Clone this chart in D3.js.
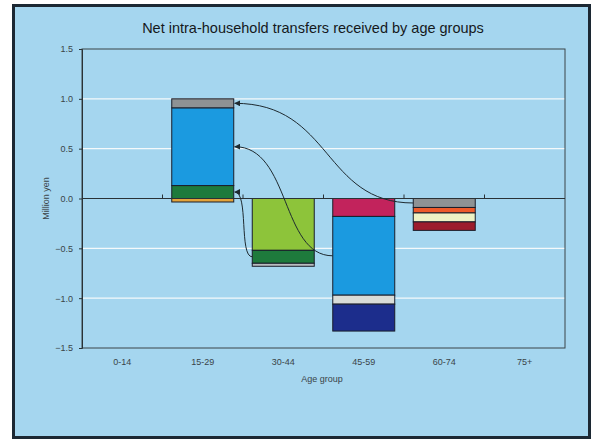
<!DOCTYPE html>
<html>
<head>
<meta charset="utf-8">
<script src="https://cdn.jsdelivr.net/npm/d3@7"></script>
<style>
  body { margin: 0; background: #fff; }
  text { font-family: "Liberation Sans", Arial, sans-serif; }
</style>
</head>
<body>
<script>
var width = 598,
    height = 441;

// categories and tick labels
var ageGroups = ['0-14', '15-29', '30-44', '45-59', '60-74', '75+'];
var yTicks = [1.5, 1.0, 0.5, 0.0, -0.5, -1.0, -1.5];

// stacked segments per age group (million yen), drawn outward from zero
var segValues = [
  [],
  [0.13, 0.78, 0.09, -0.035],
  [-0.52, -0.13, -0.03],
  [-0.18, -0.79, -0.09, -0.27],
  [-0.09, -0.055, -0.09, -0.085],
  []
];
var segColors = [
  [],
  ['#1e7a3c', '#1b9ae0', '#8e9294', '#e3a33a'],
  ['#8dc43a', '#1e7a3c', '#b8bcc0'],
  ['#c2235c', '#1b9ae0', '#d9dcd8', '#1c2d8c'],
  ['#8e9294', '#ee5a2a', '#eef2c4', '#9c1c2c'],
  []
];

// transfers: [from group, from segment] -> [to group, to segment]
var transfers = [
  {from: [4, 0], to: [1, 2]},
  {from: [3, 1], to: [1, 1]},
  {from: [2, 1], to: [1, 0]}
];

var margin = {left: 82, right: 33, top: 49, bottom: 93};

var svg = d3.select('body')
  .append('svg')
  .attr('width', width)
  .attr('height', height);

svg.append('rect')
  .attr('x', 13.5)
  .attr('y', 5.5)
  .attr('width', 576)
  .attr('height', 432)
  .attr('fill', '#a5d6ef')
  .attr('stroke', '#1c2833')
  .attr('stroke-width', 3);

var x = d3.scaleBand()
  .domain(ageGroups)
  .range([margin.left, width - margin.right])
  .paddingInner(0.23)
  .paddingOuter(0.115);

var xb = d3.scaleBand()
  .domain(ageGroups)
  .range([margin.left, width - margin.right]);

var y = d3.scaleLinear()
  .domain([-1.5, 1.5])
  .range([height - margin.bottom, margin.top]);

// gridlines
svg.append('g')
  .selectAll('line')
  .data(yTicks.filter(function(d) { return d !== 0 && Math.abs(d) !== 1.5; }))
  .enter()
  .append('line')
  .attr('x1', margin.left)
  .attr('x2', width - margin.right)
  .attr('y1', function(d) { return y(d); })
  .attr('y2', function(d) { return y(d); })
  .attr('stroke', '#f4f9fb')
  .attr('stroke-width', 1.2);

// plot border
svg.append('rect')
  .attr('x', margin.left)
  .attr('y', margin.top)
  .attr('width', width - margin.left - margin.right)
  .attr('height', height - margin.top - margin.bottom)
  .attr('fill', 'none')
  .attr('stroke', '#3a4448')
  .attr('stroke-width', 1);

// y axis
var yAxis = d3.axisLeft(y)
  .tickValues(yTicks)
  .tickSize(3)
  .tickPadding(6)
  .tickFormat(d3.format('.1f'));

var yg = svg.append('g')
  .attr('transform', 'translate(' + margin.left + ',0)')
  .call(yAxis);
yg.select('.domain').attr('stroke', '#2a3236');
yg.selectAll('.tick line').attr('stroke', '#2a3236');
yg.selectAll('.tick text')
  .attr('font-size', 9)
  .attr('fill', '#3a4448')
  .style('font-family', '"Liberation Sans", Arial, sans-serif');

// x labels
svg.append('g')
  .selectAll('text')
  .data(ageGroups)
  .enter()
  .append('text')
  .attr('x', function(d) { return xb(d) + xb.bandwidth() / 2; })
  .attr('y', 365)
  .attr('text-anchor', 'middle')
  .attr('font-size', 9)
  .attr('fill', '#3a4448')
  .text(function(d) { return d; });

// bars
var segs = [];
segValues.forEach(function(vals, i) {
  var pos = 0, neg = 0;
  vals.forEach(function(v, j) {
    var y0, y1;
    if (v >= 0) { y0 = pos; y1 = pos + v; pos = y1; }
    else { y0 = neg; y1 = neg + v; neg = y1; }
    segs.push({g: i, s: j, y0: y0, y1: y1, color: segColors[i][j]});
  });
});

function findSeg(g, s) {
  return segs.filter(function(d) { return d.g === g && d.s === s; })[0];
}

svg.append('g')
  .selectAll('rect')
  .data(segs)
  .enter()
  .append('rect')
  .attr('x', function(d) { return x(ageGroups[d.g]); })
  .attr('width', x.bandwidth())
  .attr('y', function(d) { return y(Math.max(d.y0, d.y1)); })
  .attr('height', function(d) { return Math.abs(y(d.y0) - y(d.y1)); })
  .attr('fill', function(d) { return d.color; })
  .attr('stroke', '#1a1e2a')
  .attr('stroke-width', 1);

// zero line with category ticks
svg.append('line')
  .attr('x1', margin.left)
  .attr('x2', width - margin.right)
  .attr('y1', y(0))
  .attr('y2', y(0))
  .attr('stroke', '#2a3236')
  .attr('stroke-width', 1);

svg.append('g')
  .selectAll('line')
  .data(ageGroups.slice(1))
  .enter()
  .append('line')
  .attr('x1', function(d) { return xb(d); })
  .attr('x2', function(d) { return xb(d); })
  .attr('y1', y(0) - 4)
  .attr('y2', y(0))
  .attr('stroke', '#2a3236');

// arrows
svg.append('defs').append('marker')
  .attr('id', 'head')
  .attr('viewBox', '0 0 10 10')
  .attr('refX', 9)
  .attr('refY', 5)
  .attr('markerWidth', 6)
  .attr('markerHeight', 6)
  .attr('markerUnits', 'userSpaceOnUse')
  .attr('orient', 'auto')
  .append('path')
  .attr('d', 'M0,0L10,5L0,10z')
  .attr('fill', '#1e2a30');

svg.append('g')
  .selectAll('path')
  .data(transfers)
  .enter()
  .append('path')
  .attr('d', function(d) {
    var a = findSeg(d.from[0], d.from[1]),
        b = findSeg(d.to[0], d.to[1]);
    var x0 = x(ageGroups[d.from[0]]),
        y0 = y((a.y0 + a.y1) / 2),
        x1 = x(ageGroups[d.to[0]]) + x.bandwidth() + 1,
        y1 = y((b.y0 + b.y1) / 2);
    var mx = x1 + (x0 - x1) * 0.52;
    var p = d3.path();
    p.moveTo(x0, y0);
    p.bezierCurveTo(mx - 5, y0, mx + 5, y1, x1, y1);
    return p.toString();
  })
  .attr('fill', 'none')
  .attr('stroke', '#1e2a30')
  .attr('stroke-width', 1)
  .attr('marker-end', 'url(#head)');

// titles
svg.append('text')
  .attr('x', 313)
  .attr('y', 33)
  .attr('text-anchor', 'middle')
  .attr('font-size', 14.5)
  .attr('fill', '#15191c')
  .text('Net intra-household transfers received by age groups');

svg.append('text')
  .attr('x', 322)
  .attr('y', 382)
  .attr('text-anchor', 'middle')
  .attr('font-size', 9)
  .attr('fill', '#3a4448')
  .text('Age group');

svg.append('text')
  .attr('transform', 'translate(49,' + y(0) + ') rotate(-90)')
  .attr('text-anchor', 'middle')
  .attr('font-size', 9)
  .attr('fill', '#3a4448')
  .text('Million yen');
</script>
</body>
</html>
